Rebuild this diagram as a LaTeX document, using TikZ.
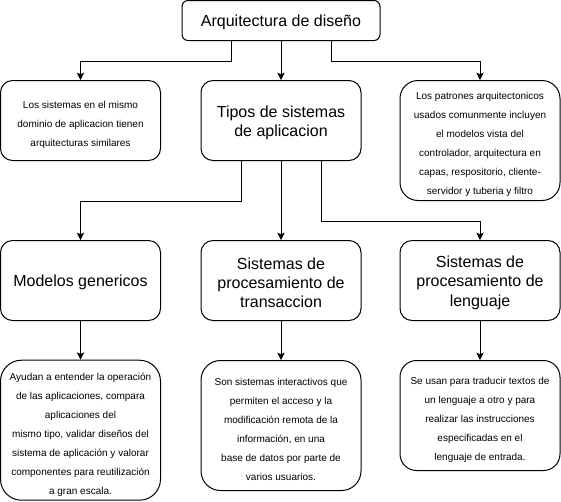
\documentclass[tikz,border=0pt]{standalone}
\usepackage{fontspec}
\setmainfont{Liberation Sans}
\usetikzlibrary{arrows.meta,calc}
\newcommand\tzsmallup{\rule{0pt}{12pt}}
\newcommand\tzbigup{\rule{0pt}{12.2pt}}
\newcommand\tztitleup{\rule{0pt}{11.2pt}}
\begin{document}
\begin{tikzpicture}[x=0.75pt,y=-0.75pt,
  box/.style={draw=black,line width=0.75pt,inner sep=0pt,align=center},
  big/.style={font=\fontsize{12}{14.4}\selectfont},
  small/.style={font=\fontsize{7.5}{14.25}\selectfont},
  conn/.style={draw=black,line width=0.75pt,-{Stealth[length=5.5pt,width=5.5pt,inset=1.2pt]}}]
\useasboundingbox (0,0) rectangle (561,501);

\node[box,big,minimum width=148.5pt,minimum height=30pt,rounded corners=4.5pt] (top) at (281,20.5) {\tztitleup Arquitectura de diseño};

\node[box,small,minimum width=120pt,minimum height=60pt,rounded corners=9pt] (A) at (80.5,120.5)
  {\tzsmallup Los sistemas en el mismo\\dominio de aplicacion tienen\\arquitecturas similares};
\node[box,big,minimum width=120pt,minimum height=60pt,rounded corners=9pt] (Tipos) at (281,120.5)
  {\tzbigup Tipos de sistemas\\de aplicacion};
\node[box,small,minimum width=120pt,minimum height=90pt,rounded corners=13.5pt] (R1) at (480,140.5)
  {\tzsmallup Los patrones arquitectonicos\\usados comunmente incluyen\\el modelos vista del\\controlador, arquitectura en\\capas, respositorio, cliente-\\servidor y tuberia y filtro};

\node[box,big,minimum width=120pt,minimum height=60pt,rounded corners=9pt] (M2) at (80.5,280.5)
  {\tzbigup Modelos genericos};
\node[box,big,minimum width=120pt,minimum height=60pt,rounded corners=9pt] (T2) at (281,280.5)
  {\tzbigup Sistemas de\\procesamiento de\\transaccion};
\node[box,big,minimum width=120pt,minimum height=60pt,rounded corners=9pt] (L2) at (480,280.5)
  {\tzbigup Sistemas de\\procesamiento de\\lenguaje};

\node[box,small,minimum width=120pt,minimum height=105pt,rounded corners=15.75pt] (M3) at (80.5,430.2)
  {\tzsmallup Ayudan a entender la operación\\de las aplicaciones, compara\\aplicaciones del\\mismo tipo, validar diseños del\\sistema de aplicación y valorar\\componentes para reutilización\\a gran escala.};
\node[box,small,minimum width=120pt,minimum height=97.5pt,rounded corners=14.6pt] (T3) at (281,425.5)
  {\tzsmallup Son sistemas interactivos que\\permiten el acceso y la\\modificación remota de la\\información, en una\\base de datos por parte de\\varios usuarios.};
\node[box,small,minimum width=120pt,minimum height=82.5pt,rounded corners=12.4pt] (L3) at (480,415.5)
  {\tzsmallup Se usan para traducir textos de\\un lenguaje a otro y para\\realizar las instrucciones\\especificadas en el\\lenguaje de entrada.};

\draw[conn] ([xshift=-37.5pt]top.south) -- ++(0,20) -| (A.north);
\draw[conn] (top.south) -- (Tipos.north);
\draw[conn] ([xshift=37.5pt]top.south) -- ++(0,20) -| (R1.north);

\draw[conn] ([xshift=-30pt]Tipos.south) -- ++(0,40) -| (M2.north);
\draw[conn] (Tipos.south) -- (T2.north);
\draw[conn] ([xshift=30pt]Tipos.south) -- ++(0,60) -| (L2.north);

\draw[conn] (M2.south) -- (M3.north);
\draw[conn] (T2.south) -- (T3.north);
\draw[conn] (L2.south) -- (L3.north);
\end{tikzpicture}
\end{document}
